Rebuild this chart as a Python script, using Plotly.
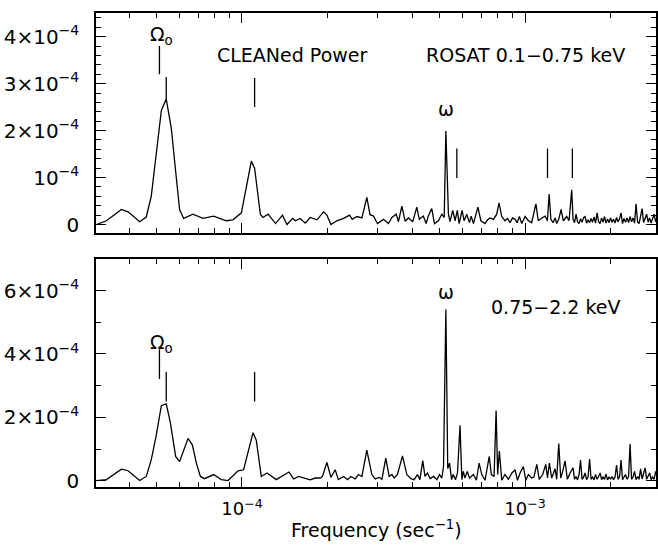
import math
import plotly.graph_objects as go

# ---------------- data (frequency in units of 1e-4 Hz, power in units of 1e-4) ----------------
freq_soft = [0.306, 0.332, 0.375, 0.396, 0.435, 0.459, 0.478, 0.498, 0.519, 0.540, 0.563, 0.583,
             0.602, 0.622, 0.671, 0.728, 0.794, 0.880, 0.929, 0.995, 1.036, 1.079, 1.108, 1.161,
             1.186, 1.236, 1.314, 1.39, 1.442, 1.51, 1.543, 1.606, 1.673, 1.742, 1.840, 1.941,
             1.995, 2.061, 2.163, 2.285, 2.398, 2.452, 2.547, 2.652, 2.760, 2.833, 2.914, 3.01,
             3.16, 3.29, 3.385, 3.506, 3.57, 3.67, 3.77, 3.87, 4.01, 4.145, 4.23, 4.37, 4.47,
             4.55, 4.68, 4.785, 4.94, 5.08, 5.18, 5.25, 5.36, 5.43, 5.55, 5.66, 5.76, 5.85,
             5.99, 6.09, 6.22, 6.36, 6.45, 6.57, 6.81, 6.98, 7.22, 7.37, 7.52, 7.73, 7.94, 8.09,
             8.27, 8.49, 8.67, 8.85, 9.03, 9.22, 9.37, 9.55, 9.73, 10.0, 10.27, 10.55, 10.92,
             11.13, 11.46, 11.77, 11.99, 12.16, 12.33, 12.56, 12.76, 12.93, 13.16, 13.40, 13.65,
             14.03, 14.30, 14.61,
             14.77, 14.95, 15.14, 15.32, 15.51, 15.70, 15.89, 16.09, 16.29, 16.49, 16.69, 16.90,
             17.10, 17.31, 17.52, 17.74, 17.96, 18.18, 18.40, 18.63, 18.86, 19.08, 19.31, 19.55,
             19.79, 20.03, 20.28, 20.53, 20.78, 21.04, 21.29, 21.56, 21.82, 22.09, 22.36, 22.63,
             22.92, 23.20, 23.49, 23.77, 24.07, 24.36, 24.66, 24.97, 25.27, 25.58, 25.90, 26.22,
             26.54, 26.87, 27.20, 27.53, 27.87, 28.21, 28.56, 28.91, 29.27]
power_soft = [0.00, 0.08, 0.32, 0.27, 0.06, 0.16, 0.60, 1.48, 2.43, 2.67, 2.04, 1.13,
              0.32, 0.13, 0.22, 0.13, 0.18, 0.08, 0.10, 0.25, 0.78, 1.35, 1.20, 0.22,
              0.15, 0.22, 0.02, 0.20, 0.00, 0.13, 0.08, 0.13, 0.03, 0.15, 0.10, 0.27,
              0.20, 0.00, 0.08, 0.13, 0.20, 0.11, 0.17, 0.14, 0.58, 0.21, 0.18, 0.02,
              0.11, 0.02, 0.15, 0.22, 0.06, 0.39, 0.07, 0.14, 0.06, 0.37, 0.11, 0.18, 0.02,
              0.18, 0.34, 0.02, 0.08, 0.22, 0.15, 1.99, 0.22, 0.06, 0.30, 0.08, 0.30, 0.02,
              0.30, 0.08, 0.22, 0.04, 0.18, 0.02, 0.37, 0.08, 0.02, 0.10, 0.14, 0.11, 0.22, 0.46,
              0.17, 0.08, 0.13, 0.04, 0.14, 0.11, 0.04, 0.17, 0.02, 0.17, 0.08, 0.04, 0.44,
              0.08, 0.14, 0.18, 0.08, 0.65, 0.11, 0.04, 0.14, 0.02, 0.12, 0.32, 0.08,
              0.17, 0.08, 0.74,
              0.11, 0.04, 0.22, 0.06, 0.02, 0.12, 0.05, 0.15, 0.17, 0.03, 0.10, 0.04,
              0.13, 0.05, 0.16, 0.03, 0.25, 0.06, 0.02, 0.14, 0.05, 0.17, 0.03, 0.12,
              0.04, 0.14, 0.05, 0.11, 0.03, 0.15, 0.06, 0.12, 0.25, 0.02, 0.13, 0.05,
              0.14, 0.04, 0.17, 0.06, 0.14, 0.03, 0.44, 0.05, 0.02, 0.15, 0.34, 0.04,
              0.12, 0.22, 0.05, 0.14, 0.03, 0.12, 0.22, 0.06, 0.15]

freq_hard = [0.306, 0.332, 0.375, 0.396, 0.435, 0.459, 0.478, 0.498, 0.519, 0.540, 0.558, 0.583,
             0.602, 0.622, 0.645, 0.668, 0.690, 0.713, 0.737, 0.794, 0.845, 0.893, 0.968, 1.013,
             1.094, 1.123, 1.170, 1.226, 1.321, 1.465, 1.522, 1.584, 1.673, 1.742, 1.815, 1.890,
             1.924, 1.995, 2.061, 2.134, 2.19, 2.285, 2.36, 2.426, 2.512, 2.58, 2.652, 2.760,
             2.875, 2.954, 3.06, 3.12, 3.22, 3.31, 3.385, 3.45, 3.54, 3.69, 3.82, 3.95, 4.055,
             4.165, 4.25, 4.35, 4.43, 4.52, 4.62, 4.75, 4.88, 4.985, 5.08, 5.15, 5.25, 5.33,
             5.41, 5.50, 5.57, 5.68, 5.77, 5.89, 5.98, 6.05, 6.13, 6.25, 6.36, 6.57, 6.73, 6.88,
             7.03, 7.22, 7.47, 7.60, 7.77, 7.90, 8.00, 8.11, 8.27, 8.49, 8.73, 8.98, 9.22, 9.40,
             9.60, 9.86, 10.06, 10.27, 10.55, 10.74, 11.0, 11.22, 11.54, 11.83, 12.0, 12.18,
             12.42, 12.76, 12.93, 13.15, 13.36, 13.58, 13.84, 14.1, 14.42,
             14.77, 14.95, 15.14, 15.32, 15.51, 15.70, 15.89, 16.09, 16.29, 16.49, 16.69, 16.90,
             17.10, 17.31, 17.52, 17.74, 17.96, 18.18, 18.40, 18.63, 18.86, 19.08, 19.31, 19.55,
             19.79, 20.03, 20.28, 20.53, 20.78, 21.04, 21.29, 21.56, 21.82, 22.09, 22.36, 22.63,
             22.92, 23.20, 23.49, 23.77, 24.07, 24.36, 24.66, 24.97, 25.27, 25.58, 25.90, 26.22,
             26.54, 26.87, 27.20, 27.53, 27.87, 28.21, 28.56, 28.91, 29.27]
power_hard = [0.01, 0.04, 0.37, 0.32, 0.01, 0.14, 0.66, 1.44, 2.37, 2.43, 1.85, 0.77,
              0.61, 0.97, 1.34, 1.13, 0.56, 0.14, 0.07, 0.20, 0.04, 0.01, 0.32, 0.35,
              1.52, 1.28, 0.14, 0.25, 0.04, 0.28, 0.06, 0.14, 0.09, 0.03, 0.09, 0.09,
              0.14, 0.58, 0.11, 0.35, 0.04, 0.14, 0.04, 0.14, 0.06, 0.20, 0.14, 0.97,
              0.20, 0.06, 0.11, 0.04, 0.72, 0.14, 0.20, 0.09, 0.20, 0.79, 0.20, 0.07, 0.04,
              0.20, 0.04, 0.64, 0.14, 0.25, 0.07, 0.14, 0.04, 0.20, 0.09, 0.45, 5.40, 0.39,
              0.56, 0.04, 0.20, 0.04, 0.25, 1.75, 0.04, 0.30, 0.09, 0.30, 0.09, 0.20, 0.02, 0.56,
              0.20, 0.02, 0.77, 0.20, 0.14, 2.22, 0.20, 0.94, 0.02, 0.20, 0.05, 0.25, 0.35, 0.02,
              0.25, 0.45, 0.02, 0.20, 0.09, 0.12, 0.52, 0.05, 0.20, 0.52, 0.09, 0.56,
              0.09, 0.38, 0.05, 1.18, 0.09, 0.30, 0.63, 0.05, 0.25,
              0.41, 0.05, 0.14, 0.03, 0.20, 0.66, 0.05, 0.12, 0.25, 0.04, 0.13, 0.69,
              0.05, 0.12, 0.03, 0.20, 0.05, 0.14, 0.25, 0.04, 0.12, 0.05, 0.22, 0.03,
              0.13, 0.05, 0.14, 0.04, 0.12, 0.50, 0.05, 0.13, 0.66, 0.04, 0.12, 0.20,
              0.05, 0.14, 1.16, 0.05, 0.13, 0.30, 0.04, 0.14, 0.05, 0.38, 0.06, 0.20,
              0.41, 0.05, 0.14, 0.25, 0.04, 0.12, 0.05, 0.30, 0.14]

# frequency markers (units of 1e-4 Hz) with their vertical extent (units of 1e-4)
mark_soft_freq = [0.511, 0.540, 1.108, 5.74, 12.0, 14.69]
mark_soft_lo = [3.20, 2.67, 2.50, 0.99, 0.99, 0.99]
mark_soft_hi = [3.80, 3.14, 3.12, 1.62, 1.62, 1.62]
mark_hard_freq = [0.511, 0.540, 1.108]
mark_hard_lo = [3.21, 2.50, 2.50]
mark_hard_hi = [4.15, 3.43, 3.43]

soft_yticks = [0, 1, 2, 3, 4]
soft_ytext = ["0", "10<sup>\u22124</sup>", "2\u00d710<sup>\u22124</sup>",
              "3\u00d710<sup>\u22124</sup>", "4\u00d710<sup>\u22124</sup>"]
hard_yticks = [0, 2, 4, 6]
hard_ytext = ["0", "2\u00d710<sup>\u22124</sup>", "4\u00d710<sup>\u22124</sup>",
              "6\u00d710<sup>\u22124</sup>"]
x_major = [1e-4, 1e-3]
x_major_text = ["10<sup>\u22124</sup>", "10<sup>\u22123</sup>"]
x_minor = [4e-5, 5e-5, 6e-5, 7e-5, 8e-5, 9e-5, 2e-4, 3e-4, 4e-4, 5e-4, 6e-4, 7e-4, 8e-4,
           9e-4, 2e-3, 3e-3]

U = 1e-4
FONT = "DejaVu Sans"
W, H = 658, 548
ML, MR = 96, 2


def px(xp):
    return (xp - ML) / (W - ML - MR)


def py(yp):
    return 1 - yp / H


def markers(fr, lo, hi):
    xs, ys = [], []
    for f, a, b in zip(fr, lo, hi):
        xs += [f * U, f * U, None]
        ys += [a * U, b * U, None]
    return xs, ys


fig = go.Figure()
fig.add_trace(go.Scatter(x=[f * U for f in freq_soft], y=[p * U for p in power_soft],
                         mode="lines", line=dict(color="black", width=1.3),
                         xaxis="x", yaxis="y", showlegend=False))
fig.add_trace(go.Scatter(x=[f * U for f in freq_hard], y=[p * U for p in power_hard],
                         mode="lines", line=dict(color="black", width=1.3),
                         xaxis="x2", yaxis="y2", showlegend=False))
mx, my = markers(mark_soft_freq, mark_soft_lo, mark_soft_hi)
fig.add_trace(go.Scatter(x=mx, y=my, mode="lines", line=dict(color="black", width=1.3),
                         xaxis="x", yaxis="y", showlegend=False))
mx, my = markers(mark_hard_freq, mark_hard_lo, mark_hard_hi)
fig.add_trace(go.Scatter(x=mx, y=my, mode="lines", line=dict(color="black", width=1.3),
                         xaxis="x2", yaxis="y2", showlegend=False))

xtickfont = dict(family=FONT, size=18, color="black")
ytickfont = dict(family=FONT, size=20, color="black")
xrange = [math.log10(3.05e-5), math.log10(2.90e-3)]
common_x = dict(type="log", range=xrange, showline=True, linecolor="black", linewidth=1.5,
                mirror="allticks", ticks="inside", ticklen=10, tickwidth=1.2, tickcolor="black",
                tickmode="array", tickvals=x_major, showgrid=False, zeroline=False,
                tickfont=xtickfont,
                minor=dict(tickmode="array", tickvals=x_minor, ticks="inside", ticklen=5,
                           tickwidth=1.2, tickcolor="black", showgrid=False))
common_y = dict(showline=True, linecolor="black", linewidth=1.5, mirror="allticks",
                ticks="inside", ticklen=10, tickwidth=1.2, tickcolor="black",
                tickmode="array", showgrid=False, zeroline=False, tickfont=ytickfont,
                ticklabelstandoff=11)

fig.update_layout(
    width=W, height=H, margin=dict(l=ML, r=MR, t=0, b=0),
    paper_bgcolor="white", plot_bgcolor="white",
    font=dict(family=FONT, size=18, color="black"),
    xaxis=dict(common_x, domain=[0, 1], anchor="y", showticklabels=False),
    yaxis=dict(common_y, domain=[py(235.7), py(13.3)], anchor="x",
               range=[-0.183 * U, 4.5 * U],
               tickvals=[v * U for v in soft_yticks], ticktext=soft_ytext,
               minor=dict(dtick=0.2 * U, tick0=0, ticks="inside", ticklen=5, tickwidth=1.2,
                          tickcolor="black", showgrid=False)),
    xaxis2=dict(common_x, domain=[0, 1], anchor="y2", showticklabels=True,
                ticktext=x_major_text, ticklabelstandoff=5),
    yaxis2=dict(common_y, domain=[py(492.3), py(261.7)], anchor="x2",
                range=[-0.19 * U, 7.0 * U],
                tickvals=[v * U for v in hard_yticks], ticktext=hard_ytext,
                minor=dict(dtick=1 * U, tick0=0, ticks="inside", ticklen=5, tickwidth=1.2,
                           tickcolor="black", showgrid=False)),
)

ann = [
    ("CLEANed Power", 292, 56, 19),
    ("ROSAT 0.1\u22120.75 keV", 525, 56, 19),
    ("\u03c9", 446, 110, 19),
    ("\u03a9<sub>o</sub>", 161, 36, 19),
    ("\u03c9", 446, 295, 19),
    ("0.75\u22122.2 keV", 556, 310, 19),
    ("\u03a9<sub>o</sub>", 161, 347, 19),
    ("Frequency (sec<sup>\u22121</sup>)", 376, 535, 19),
]
for text, x, y, s in ann:
    fig.add_annotation(text=text, x=px(x), y=py(y), xref="paper", yref="paper",
                       showarrow=False, xanchor="center", yanchor="middle",
                       font=dict(family=FONT, size=s, color="black"))

fig.write_html("out.html")
